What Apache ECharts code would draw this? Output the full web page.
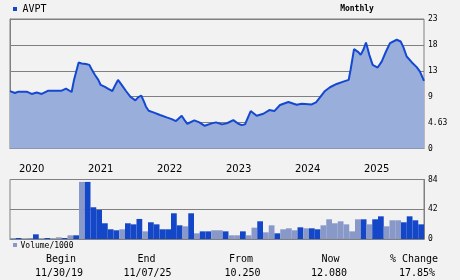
<!DOCTYPE html>
<html>
<head>
<meta charset="utf-8">
<script src="https://cdn.jsdelivr.net/npm/echarts@6/dist/echarts.min.js"></script>
<style>
html,body{margin:0;padding:0;background:#f2f2f2;}
#c{width:460px;height:280px;}
</style>
</head>
<body>
<div id="c"></div>
<script>
// ---- data ----
var symbol = 'AVPT';
var period = 'Monthly';
// months since 11/30/2019
var priceMonths = [0,0.87,1.45,2.9,3.77,4.64,5.51,6.67,8.99,9.74,10.72,11.13,11.59,11.94,12.46,13.22,13.8,14.2,14.78,15.36,15.77,16.52,17.1,17.8,18.26,18.78,19.42,20.17,20.99,21.8,22.32,22.84,23.3,23.65,24.12,24.93,26.09,27.25,28.12,28.87,29.86,30.32,30.84,32.06,32.93,33.86,35.08,35.83,36.87,37.68,38.26,38.84,39.71,40.29,40.87,41.86,42.9,44.06,45.1,45.97,46.96,48.41,49.86,50.73,52.46,53.22,53.91,54.78,55.65,56.81,57.97,58.9,59.25,59.83,60.58,60.99,61.45,61.91,62.49,63.07,63.94,64.64,65.39,66.09,67.25,67.94,68.41,68.99,69.86,70.73,71.3,72];
var priceValues = [10.25,9.92,10.16,10.16,9.75,10.0,9.75,10.34,10.34,10.7,10.1,12.26,14.05,15.36,15.2,15.1,14.95,14.17,13.15,12.26,11.36,11.0,10.64,10.28,11.24,12.26,11.36,10.28,9.2,8.6,9.18,9.44,8.37,7.47,6.75,6.46,5.98,5.56,5.26,4.9,5.85,5.13,4.42,5.02,4.67,4.06,4.49,4.67,4.31,4.49,4.78,5.08,4.42,4.18,4.31,6.69,5.85,6.21,6.87,6.69,7.77,8.31,7.82,8.0,7.88,8.26,9.15,10.28,10.95,11.54,11.95,12.26,14.17,17.77,17.23,16.74,17.64,18.95,16.74,14.95,14.47,15.54,17.34,18.84,19.44,19.13,18.13,16.44,15.43,14.54,13.75,12.08];
var volMonths = ['2019-12','2020-01','2020-02','2020-03','2020-04','2020-05','2020-06','2020-07','2020-08','2020-09','2020-10','2020-11',
'2020-12','2021-01','2021-02','2021-03','2021-04','2021-05','2021-06','2021-07','2021-08','2021-09','2021-10','2021-11',
'2021-12','2022-01','2022-02','2022-03','2022-04','2022-05','2022-06','2022-07','2022-08','2022-09','2022-10','2022-11',
'2022-12','2023-01','2023-02','2023-03','2023-04','2023-05','2023-06','2023-07','2023-08','2023-09','2023-10','2023-11',
'2023-12','2024-01','2024-02','2024-03','2024-04','2024-05','2024-06','2024-07','2024-08','2024-09','2024-10','2024-11',
'2024-12','2025-01','2025-02','2025-03','2025-04','2025-05','2025-06','2025-07','2025-08','2025-09','2025-10','2025-11'];
var volValues = [1.4,1.4,0.5,1.4,6.6,0.9,1.4,0.9,2.4,1.4,5.2,5.2,
80.6,80.6,44.8,41,22.2,13.7,12.3,13.7,22.2,20.7,28.3,10.8,
23.6,20.7,13.7,13.7,36.3,19.3,17.9,36.3,8.0,10.8,10.8,12.3,
12.3,10.8,5.2,5.2,10.8,5.2,16,25,9.4,19.3,8,13.7,
15.1,12.3,16.5,15.1,15.1,13.7,19.3,27.8,22.2,25,20.7,10.8,
27.8,27.8,20.7,27.8,32,17.9,26.4,26.4,23.6,32,26.4,20.7];
var volUp = [0,1,0,0,1,0,1,0,0,1,0,1,
0,1,1,1,1,1,1,0,1,1,1,0,
1,1,1,1,1,1,0,1,0,1,1,0,
0,1,0,0,1,0,0,1,0,0,1,0,
0,0,1,0,1,1,0,0,0,0,0,0,
0,1,0,1,1,0,0,0,1,1,1,1];
var yearLabels = ['2020','2021','2022','2023','2024','2025',''];
var priceTickLabels = ['0','4.63','9','13','18','23'];
var volTickLabels = ['0','42','84'];
var tableHeads = ['Begin','End','From','Now','% Change'];
var tableVals = ['11/30/19','11/07/25','10.250','12.080','17.85%'];

// ---- styles ----
var BLUE = '#1446c8', GRAY = '#8898c8', LINE = '#1448d0', AREA = '#9aaedc', GRID = '#808080';
var MONO = '"DejaVu Sans Mono", monospace';

var priceData = priceMonths.map(function (m, i) { return [m, priceValues[i]]; });
var volData = volValues.map(function (v, i) {
  return { value: v, itemStyle: { color: volUp[i] ? BLUE : GRAY } };
});

var headX = [61, 146.5, 241, 330.5, 414];
var valX = [59, 147.5, 242.5, 329, 417];
var graphics = [
  { type: 'rect', shape: { x: 13, y: 7, width: 4, height: 4 }, style: { fill: BLUE } },
  { type: 'text', x: 22.5, y: 9.5, style: { text: symbol, font: '10px ' + MONO, fill: '#000', textVerticalAlign: 'middle' } },
  { type: 'text', x: 357, y: 8.5, style: { text: period, font: 'bold 8px ' + MONO, fill: '#000', textAlign: 'center', textVerticalAlign: 'middle' } },
  { type: 'rect', shape: { x: 13, y: 243, width: 4, height: 4 }, style: { fill: GRAY } },
  { type: 'text', x: 20.5, y: 245.5, style: { text: 'Volume/1000', font: '8px ' + MONO, fill: '#000', textVerticalAlign: 'middle' } }
];
tableHeads.forEach(function (t, i) {
  graphics.push({ type: 'text', x: headX[i], y: 259.5, style: { text: t, font: '10px ' + MONO, fill: '#000', textAlign: 'center', textVerticalAlign: 'middle' } });
});
tableVals.forEach(function (t, i) {
  graphics.push({ type: 'text', x: valX[i], y: 273.5, style: { text: t, font: '10px ' + MONO, fill: '#000', textAlign: 'center', textVerticalAlign: 'middle' } });
});

var chart = echarts.init(document.getElementById('c'), null, { renderer: 'canvas' });
chart.setOption({
  backgroundColor: '#f2f2f2',
  animation: false,
  graphic: graphics,
  grid: [
    { left: 10, right: 36, top: 19, height: 129.5, show: true, borderColor: GRID, borderWidth: 1, backgroundColor: 'transparent' },
    { left: 10, right: 36, top: 179.5, height: 59.5, show: true, borderColor: GRID, borderWidth: 1, backgroundColor: 'transparent' }
  ],
  xAxis: [
    {
      type: 'value', gridIndex: 0, min: 0, max: 72, interval: 12,
      axisLine: { show: true, lineStyle: { color: GRID } },
      axisTick: { show: false }, splitLine: { show: false },
      axisLabel: {
        margin: 16, align: 'left', padding: [0, 0, 0, 9],
        fontFamily: '"DejaVu Sans", sans-serif', fontSize: 10, color: '#000',
        formatter: function (v) { return yearLabels[Math.round(v / 12)] || ''; }
      }
    },
    {
      type: 'category', gridIndex: 1, data: volMonths, boundaryGap: true,
      axisLine: { show: true, lineStyle: { color: GRID } },
      axisTick: { show: false }, axisLabel: { show: false }, splitLine: { show: false }
    }
  ],
  yAxis: [
    {
      type: 'value', gridIndex: 0, position: 'right', min: 0, max: 23.15, interval: 4.63,
      axisLine: { show: true, lineStyle: { color: GRID } }, axisTick: { show: false },
      splitLine: { show: true, lineStyle: { color: GRID, width: 1 } },
      axisLabel: {
        margin: 4, fontFamily: MONO, fontSize: 8, color: '#000', padding: [5, 0, 0, 0],
        formatter: function (v) { return priceTickLabels[Math.round(v / 4.63)]; }
      }
    },
    {
      type: 'value', gridIndex: 1, position: 'right', min: 0, max: 84, interval: 42,
      axisLine: { show: true, lineStyle: { color: GRID } }, axisTick: { show: false },
      splitLine: { show: true, lineStyle: { color: GRID, width: 1 } },
      axisLabel: {
        margin: 4, fontFamily: MONO, fontSize: 8, color: '#000', padding: [2, 0, 0, 0],
        formatter: function (v) { return volTickLabels[Math.round(v / 42)]; }
      }
    }
  ],
  series: [
    {
      type: 'line', xAxisIndex: 0, yAxisIndex: 0, data: priceData,
      showSymbol: false, symbol: 'none',
      lineStyle: { color: LINE, width: 2 },
      areaStyle: { color: AREA, opacity: 1 }
    },
    {
      type: 'bar', xAxisIndex: 1, yAxisIndex: 1, data: volData,
      barCategoryGap: '0%'
    }
  ]
});
</script>
</body>
</html>
